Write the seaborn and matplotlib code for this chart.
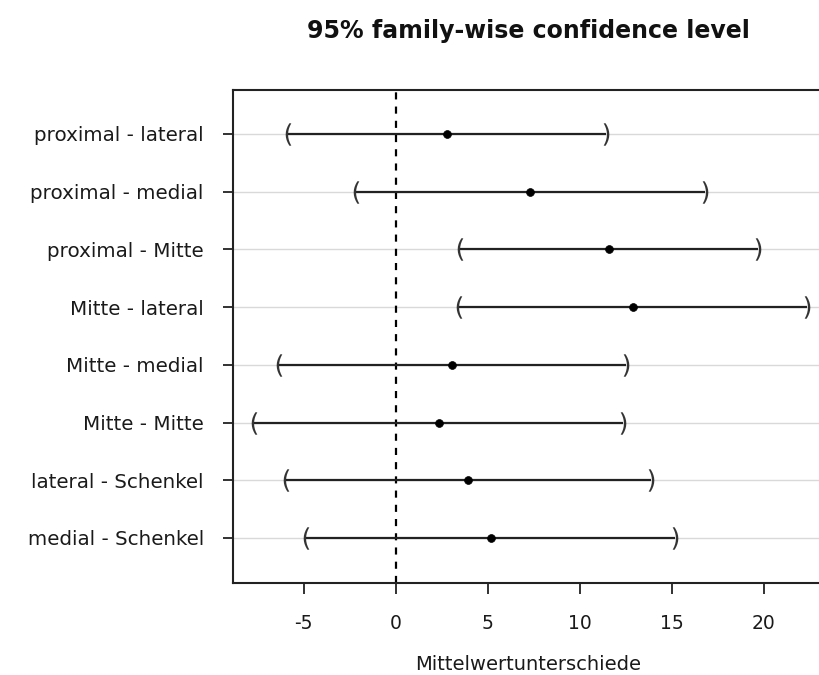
import matplotlib
matplotlib.use("Agg")
import matplotlib.pyplot as plt
import numpy as np
import pandas as pd
import seaborn as sns

# Pairwise comparisons (Tukey HSD) with 95% family-wise intervals
comparisons = [
    "proximal - lateral",
    "proximal - medial",
    "proximal - Mitte",
    "Mitte - lateral",
    "Mitte - medial",
    "Mitte - Mitte",
    "lateral - Schenkel",
    "medial - Schenkel",
]
diff = [2.80, 7.28, 11.58, 12.88, 3.09, 2.38, 3.94, 5.17]
lwr = [-5.83, -2.16, 3.48, 3.44, -6.34, -7.67, -5.93, -4.85]
upr = [11.42, 16.83, 19.69, 22.33, 12.54, 12.36, 13.87, 15.20]
xticks = [-5, 0, 5, 10, 15, 20]

df = pd.DataFrame({"comparison": comparisons, "diff": diff, "lwr": lwr, "upr": upr})
df["row"] = np.arange(1, len(df) + 1)

sns.set_theme(style="white")
plt.rcParams["font.family"] = ["DejaVu Sans"]

fig = plt.figure(figsize=(8.19, 6.75), dpi=100)
ax = fig.add_axes([233 / 819, 92 / 675, (830 - 233) / 819, 493 / 675])

# light reference lines at every comparison
for r in df["row"]:
    ax.axhline(r, color="#d9d9d9", lw=1.0, zorder=0)

# zero line
ax.axvline(0, color="black", lw=1.6, ls=(0, (3.2, 3.2)), zorder=1)

# interval lines
ax.hlines(df["row"], df["lwr"], df["upr"], color="#222222", lw=1.6, zorder=2)

# bracket ends
sns.scatterplot(data=df, x="lwr", y="row", marker=r"$($", s=260, color="#333333",
                linewidth=0, ax=ax, zorder=3, legend=False)
sns.scatterplot(data=df, x="upr", y="row", marker=r"$)$", s=260, color="#333333",
                linewidth=0, ax=ax, zorder=3, legend=False)

# estimated differences
sns.scatterplot(data=df, x="diff", y="row", s=32, color="black", edgecolor="black",
                linewidth=0.5, ax=ax, zorder=4, legend=False)

ax.set_xlim(-8.83, 23.6)
ax.set_ylim(8.78, 0.24)
ax.set_yticks(df["row"])
ax.set_yticklabels(df["comparison"], fontsize=14.3, color="#1a1a1a")
ax.set_xticks(xticks)
ax.set_xticklabels([str(t) for t in xticks], fontsize=13.5, color="#1a1a1a")
ax.tick_params(axis="y", which="both", left=True, length=7, width=1.3, color="#222222", pad=14)
ax.tick_params(axis="x", which="both", bottom=True, length=8, width=1.3, color="#222222", pad=14)

for side in ["left", "top", "bottom"]:
    ax.spines[side].set_color("#222222")
    ax.spines[side].set_linewidth(1.5)
ax.spines["right"].set_visible(False)

ax.set_xlabel("")
ax.set_ylabel("")
# axis title placed in figure coordinates, centred under the visible plot area
fig.text(528 / 819, 1 - 664 / 675, "Mittelwertunterschiede", ha="center", va="center",
         fontsize=14, color="#1a1a1a")
fig.text(528 / 819, 1 - 31 / 675, "95% family-wise confidence level", ha="center", va="center",
         fontsize=17, fontweight="bold", color="#111111")

fig.savefig("out.png", dpi=100)
